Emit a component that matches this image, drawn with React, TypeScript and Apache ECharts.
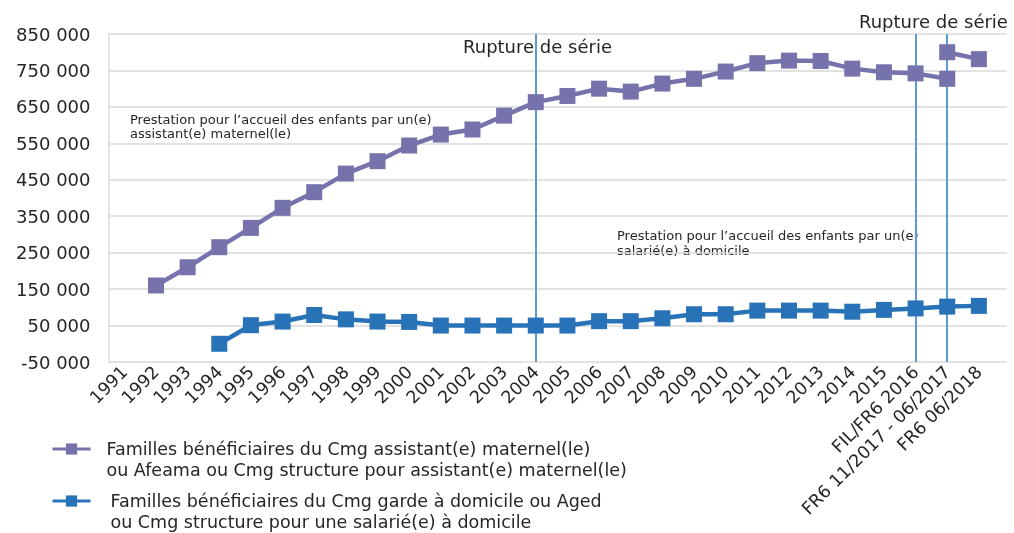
import React, { useEffect, useRef } from 'react';
import * as echarts from 'echarts';

const categories: string[] = [
  '1991', '1992', '1993', '1994', '1995', '1996', '1997', '1998', '1999', '2000',
  '2001', '2002', '2003', '2004', '2005', '2006', '2007', '2008', '2009', '2010',
  '2011', '2012', '2013', '2014', '2015', 'FIL/FR6 2016', 'FR6 11/2017 - 06/2017', 'FR6 06/2018',
];

const assistantName =
  'Familles bénéficiaires du Cmg assistant(e) maternel(le)\nou Afeama ou Cmg structure pour assistant(e) maternel(le)';
const domicileName =
  'Familles bénéficiaires du Cmg garde à domicile ou Aged\nou Cmg structure pour une salarié(e) à domicile';

const assistantValues: (number | null)[] = [
  null, 160000, 210000, 265000, 318000, 373000, 416000, 467000, 501000, 544000,
  574000, 588000, 626000, 663000, 680000, 700000, 692000, 714000, 727000, 747000,
  770000, 777000, 776000, 755000, 745000, 742000, 727000, null,
];

const assistantValuesAfterBreak: (number | null)[] = [
  null, null, null, null, null, null, null, null, null, null,
  null, null, null, null, null, null, null, null, null, null,
  null, null, null, null, null, null, 800000, 781000,
];

const domicileValues: (number | null)[] = [
  null, null, null, 0, 51000, 61000, 79000, 67000, 61000, 60000,
  50000, 50000, 50000, 50000, 50000, 62000, 62000, 70000, 81000, 81000,
  91000, 91000, 91000, 88000, 93000, 97000, 102000, 104000,
];

const ruptureCategories: string[] = ['2004', 'FIL/FR6 2016', 'FR6 11/2017 - 06/2017'];

const yMin = -50000;
const yMax = 850000;
const yInterval = 100000;

const annotationAssistant = 'Prestation pour l’accueil des enfants par un(e)\nassistant(e) maternel(le)';
const annotationDomicile = 'Prestation pour l’accueil des enfants par un(e)\nsalarié(e) à domicile';
const ruptureText = 'Rupture de série';

const FONT = 'DejaVu Sans';
const TEXT = '#262626';
const GRID = '#d9d9d9';
const PURPLE = '#7673ac';
const BLUE = '#2872b8';
const RUPTURE = '#5b9bd5';

function fmt(v: number): string {
  const s = Math.abs(v).toString().replace(/\B(?=(\d{3})+(?!\d))/g, ' ');
  return (v < 0 ? '-' : '') + s;
}

export default function App() {
  const ref = useRef<HTMLDivElement>(null);

  useEffect(() => {
    if (!ref.current) return;
    const chart = echarts.init(ref.current, undefined, { renderer: 'svg' });
    const gridTop = 34;
    const gridBottom = 171;
    const lineStyle = (c: string) => ({ color: c, width: 4.5 });
    const legendBase = (name: string, top: number, padLeft: number) => ({
      data: [name],
      left: 46,
      top,
      orient: 'vertical',
      itemWidth: 38,
      itemHeight: 14,
      selectedMode: false,
      lineStyle: { width: 3 },
      formatter: (n: string) => '\n' + n,
      textStyle: {
        fontSize: 17.5,
        lineHeight: 21,
        color: TEXT,
        fontFamily: FONT,
        padding: [0, 0, 0, padLeft],
      },
    });

    chart.setOption({
      animation: false,
      textStyle: { fontFamily: FONT },
      grid: [
        { left: 108.5, right: 7, top: gridTop, bottom: gridBottom },
        { left: 108.5, right: 19.3, top: gridTop, bottom: gridBottom },
      ],
      xAxis: [
        { type: 'category', gridIndex: 0, data: categories, show: false },
        {
          type: 'category',
          gridIndex: 1,
          data: categories,
          boundaryGap: true,
          axisLine: { show: false },
          axisTick: { show: false },
          axisLabel: {
            interval: 0,
            rotate: 45,
            fontSize: 17.5,
            color: TEXT,
            fontFamily: FONT,
            margin: 7,
          },
        },
      ],
      yAxis: [
        {
          type: 'value',
          gridIndex: 0,
          min: yMin,
          max: yMax,
          interval: yInterval,
          axisLine: { show: true, lineStyle: { color: GRID, width: 1.5 } },
          axisTick: { show: false },
          splitLine: { show: true, lineStyle: { color: GRID, width: 1.5 } },
          axisLabel: {
            formatter: (v: number) => fmt(v),
            fontSize: 18,
            color: TEXT,
            fontFamily: FONT,
            margin: 18,
          },
        },
        {
          type: 'value',
          gridIndex: 1,
          min: yMin,
          max: yMax,
          interval: yInterval,
          show: false,
          splitLine: { show: false },
        },
      ],
      legend: [
        legendBase(assistantName, 412.5, 11),
        legendBase(domicileName, 464.5, 15),
      ],
      series: [
        {
          name: assistantName,
          type: 'line',
          xAxisIndex: 1,
          yAxisIndex: 1,
          data: assistantValues,
          symbol: 'rect',
          symbolSize: 16,
          showAllSymbol: true,
          lineStyle: lineStyle(PURPLE),
          itemStyle: { color: PURPLE },
          z: 3,
        },
        {
          name: assistantName,
          type: 'line',
          xAxisIndex: 1,
          yAxisIndex: 1,
          data: assistantValuesAfterBreak,
          symbol: 'rect',
          symbolSize: 16,
          showAllSymbol: true,
          lineStyle: lineStyle(PURPLE),
          itemStyle: { color: PURPLE },
          z: 3,
        },
        {
          name: domicileName,
          type: 'line',
          xAxisIndex: 1,
          yAxisIndex: 1,
          data: domicileValues,
          symbol: 'rect',
          symbolSize: 16,
          showAllSymbol: true,
          lineStyle: lineStyle(BLUE),
          itemStyle: { color: BLUE },
          z: 3,
          markLine: {
            silent: true,
            symbol: ['none', 'none'],
            label: { show: false },
            lineStyle: { color: RUPTURE, width: 2, type: 'solid' },
            data: ruptureCategories.map((c) => ({ xAxis: c })),
            z: 2,
          },
        },
      ],
      graphic: [
        {
          type: 'text',
          x: 130,
          y: 112,
          style: {
            text: annotationAssistant,
            fontSize: 13,
            lineHeight: 14.5,
            fontFamily: FONT,
            fill: TEXT,
          },
        },
        {
          type: 'text',
          x: 617,
          y: 228,
          style: {
            text: annotationDomicile,
            fontSize: 13,
            lineHeight: 15,
            fontFamily: FONT,
            fill: TEXT,
          },
        },
        {
          type: 'text',
          x: 537.5,
          y: 46,
          style: {
            text: ruptureText,
            fontSize: 18,
            fontFamily: FONT,
            fill: TEXT,
            align: 'center',
            verticalAlign: 'middle',
          },
        },
        {
          type: 'text',
          x: 859,
          y: 21,
          style: {
            text: ruptureText,
            fontSize: 18,
            fontFamily: FONT,
            fill: TEXT,
            align: 'left',
            verticalAlign: 'middle',
          },
        },
      ],
    });

    return () => chart.dispose();
  }, []);

  return (
    <div
      ref={ref}
      style={{ position: 'fixed', left: 0, top: 0, width: 1014, height: 533 }}
    />
  );
}
